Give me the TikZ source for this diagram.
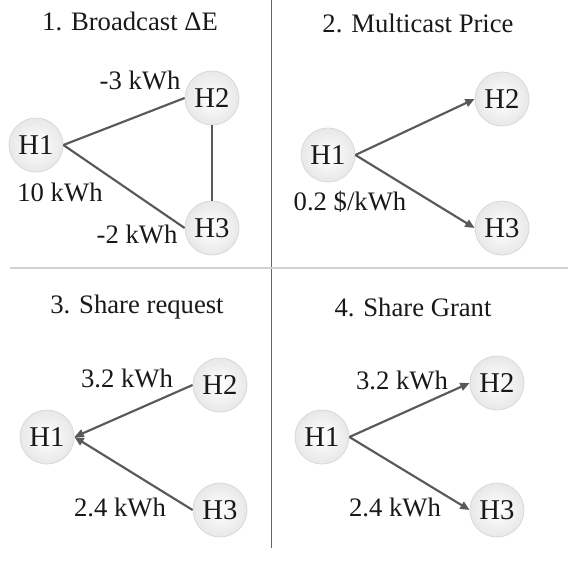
\documentclass[tikz,border=0pt]{standalone}
\usepackage{fontspec}
\setmainfont{Liberation Serif}
\usetikzlibrary{arrows.meta}
\tikzset{
  hnode/.style={circle, minimum size=40.5pt, inner sep=0pt, draw=gray!30, line width=0.6pt,
    inner color=white, outer color=gray!18, font=\fontsize{21.5}{24}\selectfont, text=black!90},
  lbl/.style={font=\fontsize{20}{22}\selectfont, text=black!90, inner sep=0pt},
  ttl/.style={font=\fontsize{20}{22}\selectfont, text=black!90, inner sep=0pt},
  edge/.style={draw=black!65, line width=1.6pt},
  arr/.style={edge, -{Triangle[length=7pt,width=6pt]}}
}
\begin{document}
\begin{tikzpicture}[x=0.75pt,y=-0.75pt]
\useasboundingbox (0,0) rectangle (569,562);
\fill[white] (0,0) rectangle (569,562);
% dividers
\coordinate (vt) at (271,0);
\coordinate (vb) at (271,548);
\coordinate (hl) at (10,268);
\coordinate (hr) at (568,268);
\draw[black!60, line width=0.6pt] (vt) -- (vb);
\draw[black!18, line width=0.8pt] (hl) -- (hr);

% panel 1
\node[ttl] (t1) at (130,21) {1. Broadcast ΔE};
\node[hnode] (a1) at (36,145) {H1};
\node[hnode] (a2) at (212,98) {H2};
\node[hnode] (a3) at (212,228) {H3};
\draw[edge] (a1.east) -- (a2.west);
\draw[edge] (a1.east) -- (a3.west);
\draw[edge] (a2.south) -- (a3.north);
\node[lbl] (l1a) at (140,80) {-3 kWh};
\node[lbl] (l1b) at (60,192) {10 kWh};
\node[lbl] (l1c) at (137,234) {-2 kWh};

% panel 2
\node[ttl] (t2) at (418,23) {2. Multicast Price};
\node[hnode] (b1) at (328,155) {H1};
\node[hnode] (b2) at (502,99) {H2};
\node[hnode] (b3) at (502,228) {H3};
\draw[arr] (b1.east) -- (b2.west);
\draw[arr] (b1.east) -- (b3.west);
\node[lbl] (l2a) at (350,202) {0.2 \$/kWh};

% panel 3
\node[ttl] (t3) at (137,307) {3. Share request};
\node[hnode] (c1) at (47,437) {H1};
\node[hnode] (c2) at (220,385) {H2};
\node[hnode] (c3) at (220,510) {H3};
\draw[arr] (c2.west) -- (c1.east);
\draw[arr] (c3.west) -- (c1.east);
\node[lbl] (l3a) at (127,378) {3.2 kWh};
\node[lbl] (l3b) at (120,507) {2.4 kWh};

% panel 4
\node[ttl] (t4) at (413,307) {4. Share Grant};
\node[hnode] (d1) at (322,437) {H1};
\node[hnode] (d2) at (497,383) {H2};
\node[hnode] (d3) at (497,510) {H3};
\draw[arr] (d1.east) -- (d2.west);
\draw[arr] (d1.east) -- (d3.west);
\node[lbl] (l4a) at (402,380) {3.2 kWh};
\node[lbl] (l4b) at (395,507) {2.4 kWh};
\end{tikzpicture}
\end{document}
